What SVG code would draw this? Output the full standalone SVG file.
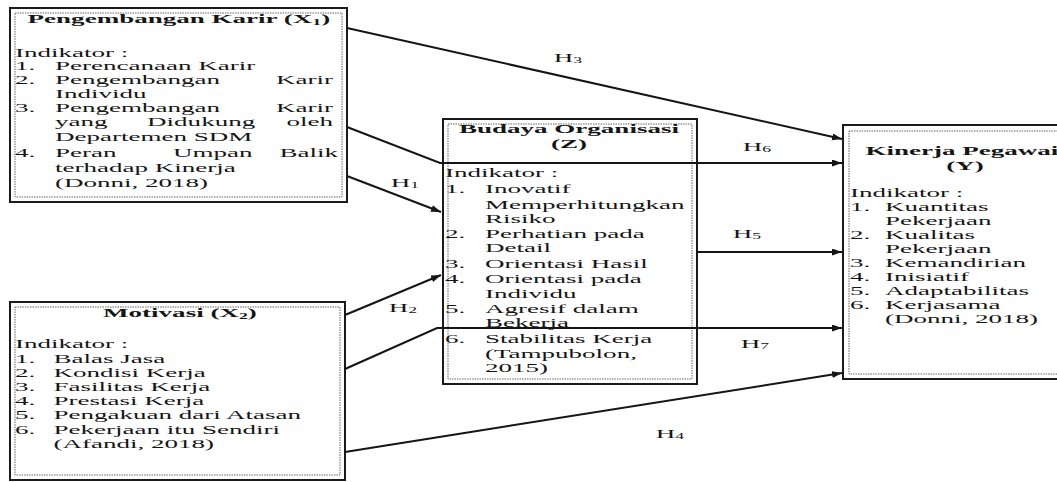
<svg xmlns="http://www.w3.org/2000/svg" width="1057" height="482" viewBox="0 0 1057 482">
<defs>
<style>
.box{fill:#fff;stroke:#1a1a1a;stroke-width:2}
.inner{fill:none;stroke:#666;stroke-width:1;stroke-dasharray:1.5 1}
text{font-family:"Liberation Serif","Times New Roman",serif;font-size:13px;fill:#151515}
.t{font-weight:bold}
.m{text-anchor:middle}
.e{text-anchor:end}
.con{fill:none;stroke:#151515;stroke-width:2}
.lbl{font-size:13px;text-anchor:middle}
</style>
<marker id="ah" markerUnits="userSpaceOnUse" markerWidth="10" markerHeight="8" refX="10" refY="3.5" orient="auto">
<path d="M0,0 L10,3.5 L0,7 z" fill="#151515"/>
</marker>
</defs>
<rect width="1057" height="482" fill="#fff"/>

<g id="node-x1">
<rect class="box" x="10" y="8" width="337" height="194"/>
<rect class="inner" x="15" y="13" width="327" height="184"/>
<g transform="translate(15,0) scale(2.08,1)">
<text class="t m" x="78.8" y="23">Pengembangan Karir (X<tspan font-size="8.5" dy="2">1</tspan><tspan dy="-2">)</tspan></text>
<text x="0" y="57">Indikator :</text>
<text x="0" y="70.5">1.</text><text x="19.2" y="70.5">Perencanaan Karir</text>
<text x="0" y="84">2.</text><text x="19.2" y="84">Pengembangan</text><text class="e" x="152.9" y="84">Karir</text>
<text x="19.2" y="98">Individu</text>
<text x="0" y="112">3.</text><text x="19.2" y="112">Pengembangan</text><text class="e" x="152.9" y="112">Karir</text>
<text x="19.2" y="126">yang</text><text x="63.5" y="126">Didukung</text><text class="e" x="152.9" y="126">oleh</text>
<text x="19.2" y="141">Departemen SDM</text>
<text x="0" y="157">4.</text><text x="19.2" y="157">Peran</text><text x="76" y="157">Umpan</text><text class="e" x="155.3" y="157">Balik</text>
<text x="19.2" y="172">terhadap Kinerja</text>
<text x="19.2" y="187">(Donni, 2018)</text>
</g>
</g>

<g id="node-x2">
<rect class="box" x="10" y="302" width="335" height="178"/>
<rect class="inner" x="15" y="307" width="325" height="168"/>
<g transform="translate(15,0) scale(2.08,1)">
<text class="t m" x="79.3" y="317">Motivasi (X<tspan font-size="8.5" dy="2">2</tspan><tspan dy="-2">)</tspan></text>
<text x="0" y="348">Indikator :</text>
<text x="0" y="363">1.</text><text x="18.5" y="363">Balas Jasa</text>
<text x="0" y="377">2.</text><text x="18.5" y="377">Kondisi Kerja</text>
<text x="0" y="391">3.</text><text x="18.5" y="391">Fasilitas Kerja</text>
<text x="0" y="405">4.</text><text x="18.5" y="405">Prestasi Kerja</text>
<text x="0" y="419">5.</text><text x="18.5" y="419">Pengakuan dari Atasan</text>
<text x="0" y="434">6.</text><text x="18.5" y="434">Pekerjaan itu Sendiri</text>
<text x="18.5" y="448">(Afandi, 2018)</text>
</g>
</g>

<g id="node-z">
<rect class="box" x="443" y="119" width="254" height="265"/>
<rect class="inner" x="448" y="124" width="244" height="255"/>
<g transform="translate(445,0) scale(2.08,1)">
<text class="t m" x="59.6" y="133">Budaya Organisasi</text>
<text class="t m" x="59.6" y="148">(Z)</text>
<text x="0" y="177">Indikator :</text>
<text x="0" y="193">1.</text><text x="19.2" y="193">Inovatif</text>
<text x="19.2" y="209">Memperhitungkan</text>
<text x="19.2" y="223">Risiko</text>
<text x="0" y="238">2.</text><text x="19.2" y="238">Perhatian pada</text>
<text x="19.2" y="252">Detail</text>
<text x="0" y="268">3.</text><text x="19.2" y="268">Orientasi Hasil</text>
<text x="0" y="283">4.</text><text x="19.2" y="283">Orientasi pada</text>
<text x="19.2" y="298">Individu</text>
<text x="0" y="313">5.</text><text x="19.2" y="313">Agresif dalam</text>
<text x="19.2" y="327">Bekerja</text>
<text x="0" y="343">6.</text><text x="19.2" y="343">Stabilitas Kerja</text>
<text x="19.2" y="358">(Tampubolon,</text>
<text x="19.2" y="372">2015)</text>
</g>
</g>

<g id="node-y">
<rect class="box" x="843" y="125" width="250" height="254"/>
<rect class="inner" x="849" y="131" width="240" height="243"/>
<g transform="translate(850,0) scale(2.08,1)">
<text class="t m" x="53.8" y="155">Kinerja Pegawai</text>
<text class="t m" x="55.3" y="170">(Y)</text>
<text x="0" y="197">Indikator :</text>
<text x="0" y="211">1.</text><text x="16.8" y="211">Kuantitas</text>
<text x="16.8" y="225">Pekerjaan</text>
<text x="0" y="239">2.</text><text x="16.8" y="239">Kualitas</text>
<text x="16.8" y="253">Pekerjaan</text>
<text x="0" y="267">3.</text><text x="16.8" y="267">Kemandirian</text>
<text x="0" y="281">4.</text><text x="16.8" y="281">Inisiatif</text>
<text x="0" y="295">5.</text><text x="16.8" y="295">Adaptabilitas</text>
<text x="0" y="309">6.</text><text x="16.8" y="309">Kerjasama</text>
<text x="16.8" y="323">(Donni, 2018)</text>
</g>
</g>

<g id="connectors">
<line class="con" x1="347" y1="28" x2="842" y2="139" marker-end="url(#ah)"/>
<polyline class="con" points="347,127 440,163 842,163" marker-end="url(#ah)"/>
<line class="con" x1="347" y1="176" x2="441" y2="212" marker-end="url(#ah)"/>
<line class="con" x1="345" y1="315" x2="441" y2="275" marker-end="url(#ah)"/>
<polyline class="con" points="345,369 437,328 842,328" marker-end="url(#ah)"/>
<line class="con" x1="697" y1="252" x2="842" y2="252" marker-end="url(#ah)"/>
<line class="con" x1="345" y1="452" x2="842" y2="373" marker-end="url(#ah)"/>
<g id="labels">
<text class="lbl" transform="translate(568,62) scale(2.08,1)">H<tspan font-size="8.5" dy="1">3</tspan></text>
<text class="lbl" transform="translate(757,151) scale(2.08,1)">H<tspan font-size="8.5" dy="1">6</tspan></text>
<text class="lbl" transform="translate(405,187) scale(2.08,1)">H<tspan font-size="8.5" dy="1">1</tspan></text>
<text class="lbl" transform="translate(403,312) scale(2.08,1)">H<tspan font-size="8.5" dy="1">2</tspan></text>
<text class="lbl" transform="translate(747,238) scale(2.08,1)">H<tspan font-size="8.5" dy="1">5</tspan></text>
<text class="lbl" transform="translate(755,348) scale(2.08,1)">H<tspan font-size="8.5" dy="1">7</tspan></text>
<text class="lbl" transform="translate(670,438) scale(2.08,1)">H<tspan font-size="8.5" dy="1">4</tspan></text>
</g>
</g>
</svg>
